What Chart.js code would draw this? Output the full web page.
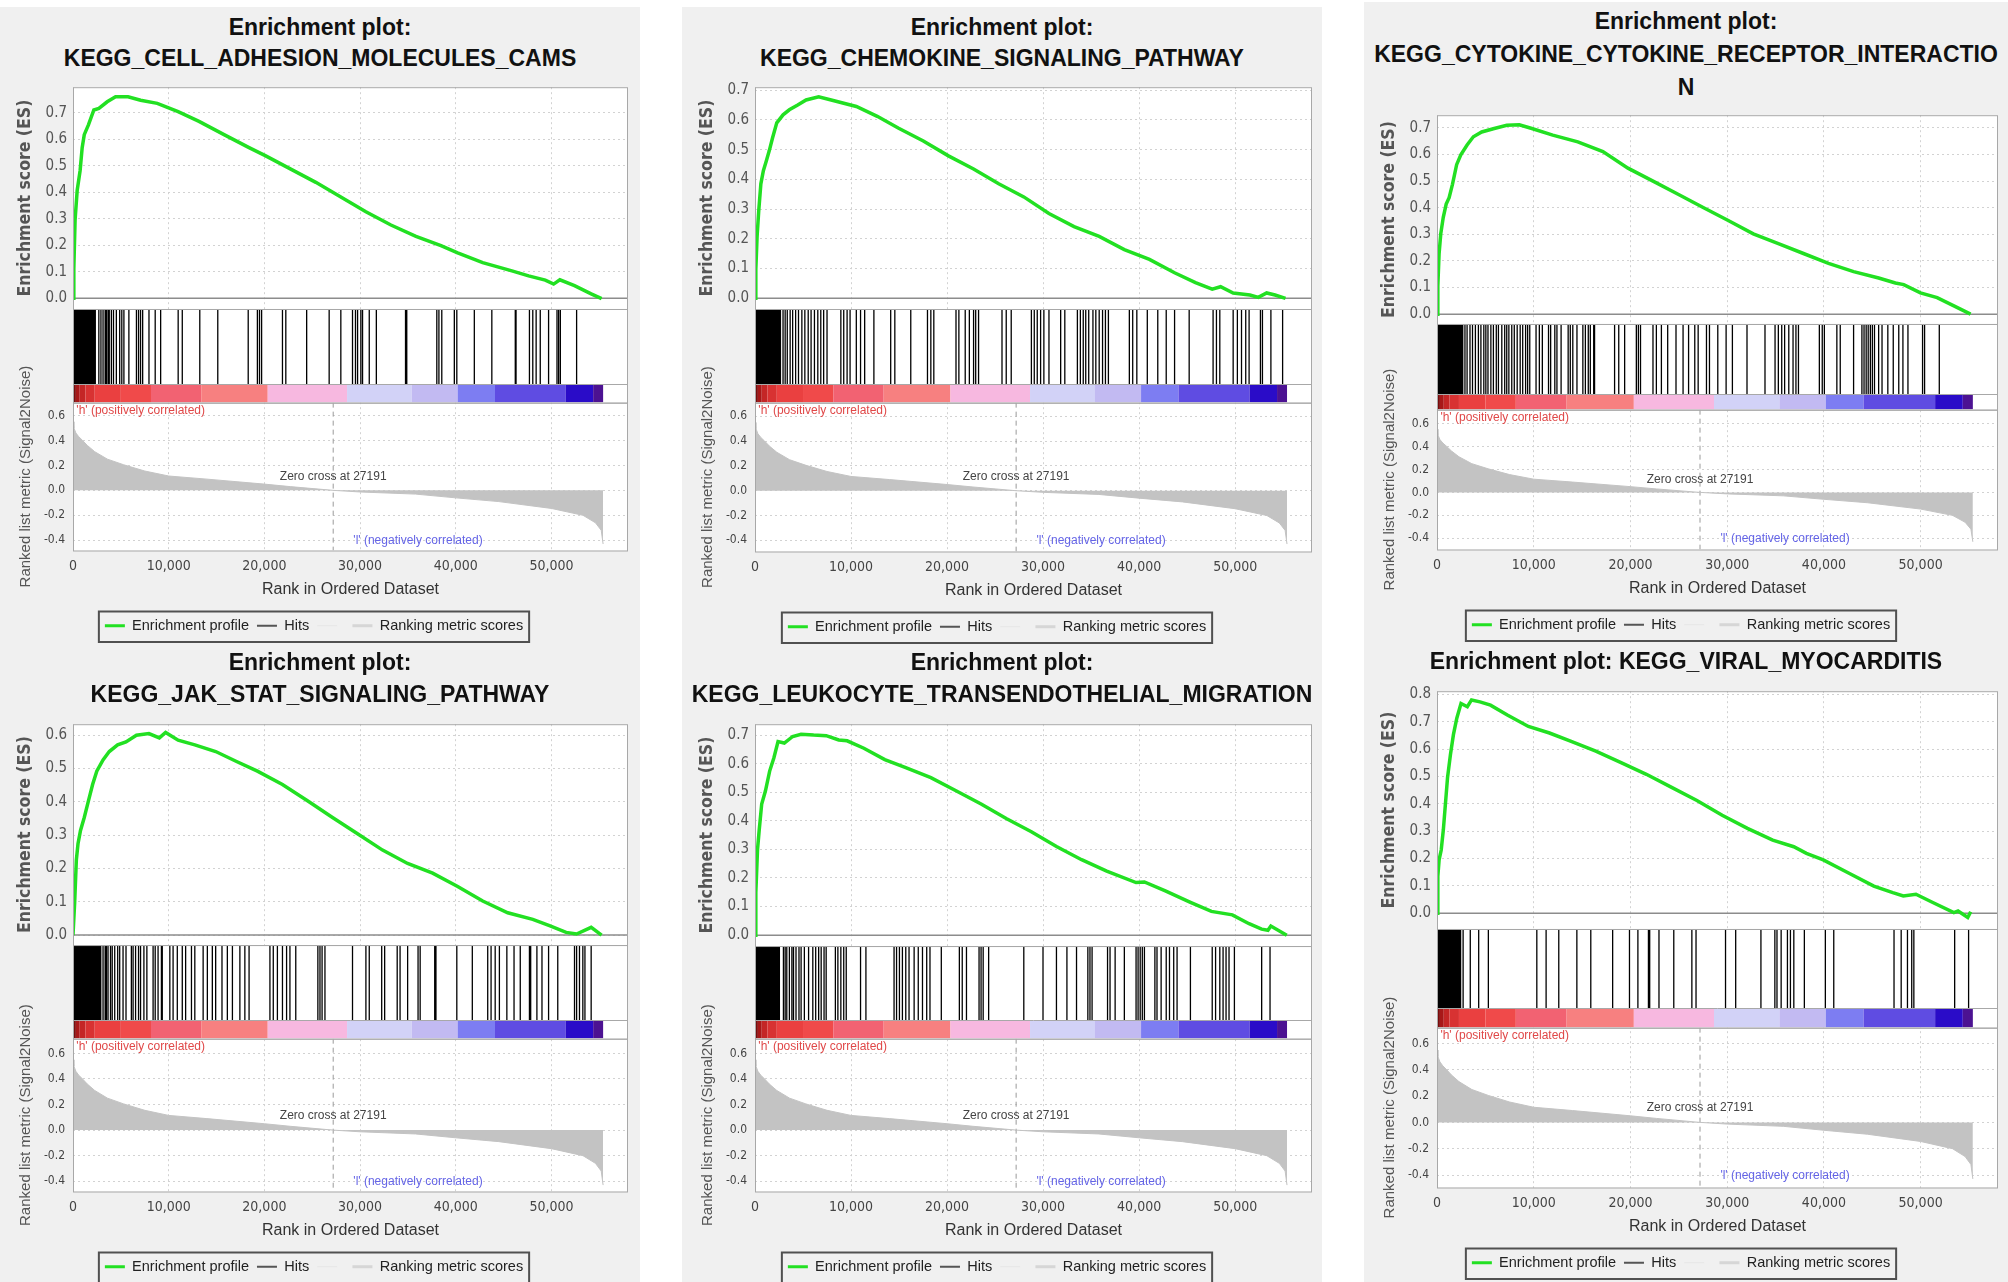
<!DOCTYPE html>
<html>
<head>
<meta charset="utf-8">
<script src="https://cdn.jsdelivr.net/npm/chart.js@4.4.0/dist/chart.umd.min.js"></script>
<style>
  html, body { margin: 0; padding: 0; }
  body { width: 2008px; height: 1282px; background: #fff; position: relative; overflow: hidden;
         font-family: "Liberation Sans", Arial, sans-serif; }
  .col { position: absolute; background: #f0f0f0; }
  .title { position: absolute; text-align: center; font-weight: bold; font-size: 23px; color: #111; white-space: nowrap; }
  canvas { position: absolute; }
</style>
</head>
<body>
<div class="col" style="left:0;top:7px;width:640px;height:1275px"></div>
<div class="col" style="left:682px;top:7px;width:640px;height:1275px"></div>
<div class="col" style="left:1364px;top:2px;width:644px;height:1280px"></div>
<script>
// shared axis ticks
const xTicks = [0, 10000, 20000, 30000, 40000, 50000];
const rankTicks = [-0.4, -0.2, 0.0, 0.2, 0.4, 0.6];
const esTicks06 = [0.0, 0.1, 0.2, 0.3, 0.4, 0.5, 0.6];
const esTicks07 = [0.0, 0.1, 0.2, 0.3, 0.4, 0.5, 0.6, 0.7];
const esTicks08 = [0.0, 0.1, 0.2, 0.3, 0.4, 0.5, 0.6, 0.7, 0.8];
const zeroCross = 27191;

// ranked list metric (same ranked list in every plot)
const metricRanks = [0, 100, 300, 600, 1000, 1500, 2270, 3600, 5300, 7500, 10000, 14000, 20000, 22700,
  27191, 30000, 35800, 40000, 44500, 50000, 53300, 54600, 55200, 55400];
const metricValues = [0.55, 0.50, 0.46, 0.43, 0.40, 0.36, 0.31, 0.25, 0.205, 0.155, 0.115, 0.09, 0.05, 0.03,
  0.0, -0.013, -0.03, -0.06, -0.09, -0.145, -0.20, -0.26, -0.32, -0.43];

// red -> blue colour bar of the ranked list
const barBounds = [0, 300, 700, 1300, 2270, 5000, 8150, 13400, 20350, 28640, 35400, 40200, 44100, 51500, 54360, 55400];
const barColors = ['#7a0c0c', '#a81818', '#c42626', '#d83232', '#ea4040', '#f04a4a', '#f26272', '#f78080',
  '#f7b8e0', '#d2d2f7', '#c2baf2', '#7d7df2', '#5f4ce2', '#2a0cc8', '#4c1292'];

// KEGG_CELL_ADHESION_MOLECULES_CAMS
const camsRanks = [0, 87, 218, 436, 741, 959, 1177, 1613, 2180, 2703, 3575, 4447, 5755, 7063, 8807, 10987, 13167,
  15783, 18399, 20143, 22759, 25375, 27991, 30607, 33223, 35839, 38455, 40199, 42815, 45867, 47611, 49355, 50227,
  50881, 52407, 54151, 55241];
const camsES = [0, 0.109, 0.295, 0.406, 0.481, 0.568, 0.617, 0.654, 0.710, 0.716, 0.741, 0.760, 0.760, 0.747, 0.735,
  0.704, 0.667, 0.617, 0.568, 0.537, 0.487, 0.437, 0.382, 0.326, 0.276, 0.233, 0.198, 0.171, 0.134, 0.103, 0.084,
  0.068, 0.053, 0.069, 0.047, 0.016, -0.002];
const camsHits = [20, 120, 230, 330, 450, 560, 680, 790, 900, 1010, 1130, 1240, 1350, 1460, 1580, 1700, 1820, 1950,
  2080, 2200, 2330, 2700, 2920, 3140, 3360, 3490, 3660, 3790, 4010, 4230, 4530, 4880, 5100, 5320, 5840, 6630, 6850,
  7060, 7280, 7940, 8590, 9160, 10990, 11420, 13250, 15130, 18310, 19270, 19490, 19710, 21890, 22240, 24420, 26770,
  27990, 29210, 29520, 29740, 30080, 30260, 30960, 31700, 34750, 34880, 38020, 38240, 38540, 39850, 40110, 41940,
  43770, 46220, 46300, 47700, 48050, 48400, 48830, 49700, 50580, 50750, 50930, 52630];

// KEGG_CHEMOKINE_SIGNALING_PATHWAY
const chemokineRanks = [0, 87, 218, 392, 610, 872, 1177, 1482, 1831, 2267, 2921, 3575, 4447, 5319, 6627, 7935, 9243,
  10551, 12731, 14911, 17527, 20143, 22759, 25375, 27991, 30607, 33223, 35839, 38455, 41071, 43687, 45867, 47611,
  48483, 49791, 51535, 52407, 53279, 54151, 55241];
const chemokineES = [0, 0.097, 0.208, 0.296, 0.385, 0.429, 0.462, 0.496, 0.540, 0.590, 0.617, 0.634, 0.650, 0.667,
  0.678, 0.667, 0.656, 0.645, 0.612, 0.573, 0.529, 0.479, 0.435, 0.385, 0.341, 0.285, 0.241, 0.208, 0.164, 0.131,
  0.086, 0.053, 0.031, 0.039, 0.018, 0.011, 0.003, 0.018, 0.011, 0.0];
const chemokineHits = [20, 130, 250, 370, 490, 610, 730, 850, 970, 1090, 1210, 1330, 1450, 1570, 1690, 1810, 1930,
  2050, 2170, 2290, 2410, 2530, 2650, 2920, 3140, 3360, 3660, 3920, 4230, 4530, 4880, 5190, 5540, 5840, 6190, 6540,
  6850, 7150, 7500, 8940, 9240, 9590, 9900, 10550, 10990, 11420, 12380, 14130, 14560, 16220, 17960, 18310, 18620,
  20930, 21230, 21890, 22320, 22760, 22980, 23280, 25720, 26160, 26680, 28780, 29080, 29390, 29740, 30080, 30610,
  31830, 32260, 33570, 33880, 34180, 34440, 34750, 35190, 35490, 35840, 36190, 36490, 36800, 38980, 39330, 39760,
  40850, 41940, 42820, 43690, 45210, 47700, 48050, 48400, 49790, 50230, 50660, 51100, 51450, 52630, 52840, 53720,
  54940];

// KEGG_CYTOKINE_CYTOKINE_RECEPTOR_INTERACTION
const cytokineRanks = [0, 86, 216, 389, 648, 950, 1253, 1598, 2030, 2462, 3110, 3758, 4622, 5918, 7214, 8510, 9806,
  11966, 14558, 17150, 19742, 22334, 24926, 27518, 30110, 32702, 35294, 37886, 40478, 43070, 45662, 47390, 48254,
  49982, 51710, 53438, 55166];
const cytokineES = [0, 0.105, 0.228, 0.302, 0.364, 0.414, 0.438, 0.488, 0.562, 0.599, 0.636, 0.667, 0.685, 0.698,
  0.710, 0.712, 0.698, 0.673, 0.648, 0.611, 0.549, 0.500, 0.451, 0.401, 0.352, 0.302, 0.265, 0.228, 0.191, 0.160,
  0.136, 0.117, 0.111, 0.080, 0.062, 0.031, 0.0];
const cytokineHits = [20, 140, 260, 380, 500, 620, 740, 860, 980, 1100, 1220, 1340, 1460, 1580, 1700, 1820, 1940,
  2060, 2180, 2300, 2420, 2540, 2660, 2890, 3110, 3410, 3670, 3970, 4280, 4540, 4840, 5050, 5270, 5570, 5830, 6130,
  6350, 6700, 7000, 7210, 7430, 7730, 7990, 8290, 8600, 8860, 9160, 9370, 9590, 10240, 10580, 10890, 11530, 11750,
  12180, 12400, 12830, 13560, 13780, 14040, 14470, 15080, 15340, 15640, 15850, 16200, 16290, 18360, 18790, 19400,
  20610, 20820, 21040, 22330, 22680, 23200, 23850, 24710, 25440, 26010, 26650, 27000, 27860, 28170, 29030, 29890,
  30540, 32050, 33910, 34950, 35290, 35640, 35940, 36370, 36810, 37110, 37370, 39530, 39830, 40050, 41340, 41690,
  43070, 43930, 44150, 44370, 44580, 44800, 45010, 45230, 45660, 46010, 46610, 47170, 47740, 48170, 48690, 50200,
  50410, 51930];

// KEGG_JAK_STAT_SIGNALING_PATHWAY
const jakRanks = [0, 174, 349, 523, 785, 1177, 1613, 2049, 2485, 3139, 3793, 4665, 5537, 6627, 7935, 9025, 9679,
  10987, 12731, 14911, 17091, 19271, 21887, 24503, 27119, 29735, 32351, 34967, 37583, 40199, 42815, 45431, 48047,
  49791, 51535, 52625, 54151, 55241];
const jakES = [0, 0.097, 0.225, 0.274, 0.314, 0.353, 0.403, 0.452, 0.492, 0.526, 0.551, 0.571, 0.580, 0.600, 0.605,
  0.592, 0.608, 0.585, 0.571, 0.551, 0.521, 0.492, 0.452, 0.403, 0.353, 0.304, 0.255, 0.215, 0.186, 0.146, 0.102,
  0.067, 0.047, 0.028, 0.008, 0.003, 0.023, 0.0];
const jakHits = [20, 140, 260, 380, 500, 620, 740, 860, 980, 1100, 1220, 1340, 1460, 1580, 1700, 1820, 1940, 2060,
  2180, 2300, 2420, 2540, 2660, 2780, 2900, 3140, 3360, 3490, 3660, 3920, 4100, 4360, 4670, 4880, 5230, 5540, 6100,
  6280, 6540, 6850, 7060, 7410, 7720, 8370, 8590, 8890, 9240, 9330, 10120, 10460, 10900, 11420, 11770, 12380, 12730,
  13600, 14040, 14560, 14910, 15570, 16130, 16660, 17440, 17960, 18400, 20580, 20930, 21360, 21890, 22320, 22670,
  23280, 25590, 25810, 26030, 26330, 29210, 30610, 30960, 32260, 32570, 33880, 34180, 34970, 36060, 36280, 37800,
  37930, 40110, 41730, 43340, 43690, 44120, 44560, 45340, 46090, 46740, 47700, 47830, 48480, 49010, 49700, 50660,
  52410, 52630, 52930, 53280, 53500, 54150];

// KEGG_LEUKOCYTE_TRANSENDOTHELIAL_MIGRATION
const leukocyteRanks = [0, 87, 262, 436, 698, 1090, 1526, 1962, 2398, 3052, 3924, 4796, 6104, 7412, 8720, 9592,
  11336, 13516, 15696, 18312, 20928, 23544, 26160, 28776, 31392, 34008, 36624, 39676, 40548, 42728, 45344, 47524,
  49704, 51448, 52756, 53410, 53715, 55372];
const leukocyteES = [0, 0.149, 0.299, 0.367, 0.459, 0.505, 0.574, 0.620, 0.677, 0.672, 0.695, 0.703, 0.700, 0.698,
  0.683, 0.680, 0.654, 0.614, 0.586, 0.551, 0.505, 0.459, 0.408, 0.362, 0.310, 0.264, 0.224, 0.184, 0.186, 0.155,
  0.115, 0.083, 0.071, 0.040, 0.021, 0.017, 0.032, 0.0];
const leukocyteHits = [20, 140, 260, 380, 500, 620, 740, 860, 980, 1100, 1220, 1340, 1460, 1580, 1700, 1820, 1940,
  2060, 2180, 2300, 2420, 2540, 2960, 3140, 3310, 3580, 3840, 4010, 4270, 4580, 4800, 5140, 5580, 6020, 6320, 6630,
  6890, 7190, 7410, 8370, 8630, 8940, 9240, 9500, 10990, 11550, 14480, 14740, 15040, 15350, 15700, 16040, 16570,
  17000, 17440, 17880, 18220, 19400, 21280, 21580, 22020, 23330, 23540, 23760, 24330, 27990, 29990, 31390, 32480,
  33480, 34660, 34880, 35100, 36710, 36970, 37500, 38460, 39680, 39890, 40110, 40330, 40550, 41640, 41860, 42290,
  42820, 43160, 43600, 43950, 45340, 47610, 47960, 48400, 48740, 49050, 49360, 49920, 52760, 53630];

// KEGG_VIRAL_MYOCARDITIS
const viralRanks = [0, 87, 218, 436, 653, 871, 1089, 1394, 1698, 2047, 2482, 3136, 3571, 4442, 5531, 7273, 9450,
  11628, 13805, 16418, 19031, 21644, 24257, 26870, 29483, 32096, 34709, 36887, 38193, 39935, 42548, 45161, 47121,
  48210, 49516, 51258, 53436, 53871, 54873, 55178];
const viralES = [0, 0.135, 0.195, 0.231, 0.304, 0.400, 0.496, 0.581, 0.653, 0.713, 0.767, 0.755, 0.780, 0.773,
  0.761, 0.725, 0.683, 0.659, 0.629, 0.593, 0.551, 0.508, 0.460, 0.412, 0.358, 0.310, 0.267, 0.243, 0.219, 0.195,
  0.147, 0.099, 0.075, 0.063, 0.069, 0.039, 0.002, 0.008, -0.016, 0.005];
const viralHits = [20, 130, 240, 350, 460, 570, 680, 790, 900, 1010, 1120, 1230, 1340, 1450, 1560, 1670, 1780, 1890,
  2000, 2110, 2220, 2330, 2440, 2700, 3440, 4310, 5310, 10320, 11280, 12590, 14460, 15900, 18160, 19900, 20770,
  21860, 21990, 22950, 24480, 26350, 26780, 29830, 30880, 33490, 34930, 35150, 35580, 36230, 36540, 36890, 37980,
  40150, 41020, 47250, 47990, 48640, 49080, 49300, 53520, 54960];

const legendItems = [
  { text: 'Enrichment profile', color: '#22e022', width: 3 },
  { text: 'Hits', color: '#555555', width: 2 },
  { text: '', color: '#e6e6e6', width: 1 },
  { text: 'Ranking metric scores', color: '#d6d6d6', width: 3 },
];

// panel layout (page pixels) + which series go where
const panels = [
  { title: ['Enrichment plot:', 'KEGG_CELL_ADHESION_MOLECULES_CAMS'], esX: camsRanks, esY: camsES, hits: camsHits,
    esTicks: esTicks07,
    box: { left: 0, width: 640, right: 12, titleTop: 12, titleLine: 31, esTop: 82, esBot: 307, hitsBot: 402,
      rankBot: 552, esMin: -0.041, esMax: 0.796, rankMin: -0.482, rankMax: 0.703, barFrac: 0.2 } },
  { title: ['Enrichment plot:', 'KEGG_CHEMOKINE_SIGNALING_PATHWAY'], esX: chemokineRanks, esY: chemokineES,
    hits: chemokineHits, esTicks: esTicks07,
    box: { left: 682, width: 640, right: 10, titleTop: 12, titleLine: 31, esTop: 82, esBot: 307, hitsBot: 402,
      rankBot: 553, esMin: -0.036, esMax: 0.71, rankMin: -0.49, rankMax: 0.71, barFrac: 0.2 } },
  { title: ['Enrichment plot:', 'KEGG_CYTOKINE_CYTOKINE_RECEPTOR_INTERACTIO', 'N'], esX: cytokineRanks,
    esY: cytokineES, hits: cytokineHits, esTicks: esTicks07,
    box: { left: 1364, width: 644, right: 10, titleTop: 5, titleLine: 33, esTop: 110, esBot: 322, hitsBot: 409,
      rankBot: 551, esMin: -0.037, esMax: 0.748, rankMin: -0.497, rankMax: 0.72, barFrac: 0.184 } },
  { title: ['Enrichment plot:', 'KEGG_JAK_STAT_SIGNALING_PATHWAY'], esX: jakRanks, esY: jakES, hits: jakHits,
    esTicks: esTicks06,
    box: { left: 0, width: 640, right: 12, titleTop: 646, titleLine: 32, esTop: 719, esBot: 943, hitsBot: 1038,
      rankBot: 1193, esMin: -0.03, esMax: 0.633, rankMin: -0.48, rankMax: 0.715, barFrac: 0.2 } },
  { title: ['Enrichment plot:', 'KEGG_LEUKOCYTE_TRANSENDOTHELIAL_MIGRATION'], esX: leukocyteRanks, esY: leukocyteES,
    hits: leukocyteHits, esTicks: esTicks07,
    box: { left: 682, width: 640, right: 10, titleTop: 646, titleLine: 32, esTop: 719, esBot: 944, hitsBot: 1038,
      rankBot: 1193, esMin: -0.038, esMax: 0.738, rankMin: -0.48, rankMax: 0.715, barFrac: 0.2 } },
  { title: ['Enrichment plot: KEGG_VIRAL_MYOCARDITIS'], esX: viralRanks, esY: viralES, hits: viralHits,
    esTicks: esTicks08,
    box: { left: 1364, width: 644, right: 10, titleTop: 645, titleLine: 32, esTop: 686, esBot: 927, hitsBot: 1027,
      rankBot: 1189, esMin: -0.058, esMax: 0.812, rankMin: -0.495, rankMax: 0.72, barFrac: 0.2 } },
];

const tickFont = 'DejaVu Sans Condensed';

// frames, zero line, white hits strip, annotations, legend box
const gseaDecor = {
  id: 'gseaDecor',
  beforeDraw(chart) {
    const { ctx, chartArea: a } = chart;
    ctx.save();
    ctx.fillStyle = '#fff';
    ctx.fillRect(a.left, a.top, a.width, a.height);
    ctx.restore();
  },
  beforeDatasetsDraw(chart) {
    const { ctx, chartArea: a, scales } = chart;
    const h = scales.yHits, es = scales.yES;
    ctx.save();
    ctx.fillStyle = '#fff';
    ctx.fillRect(a.left, h.top, a.width, h.bottom - h.top);
    const y0 = es.getPixelForValue(0);
    ctx.strokeStyle = '#8c8c8c';
    ctx.lineWidth = 1.5;
    ctx.beginPath(); ctx.moveTo(a.left, y0); ctx.lineTo(a.right, y0); ctx.stroke();
    ctx.restore();
  },
  afterDatasetsDraw(chart) {
    const { ctx, chartArea: a, scales } = chart;
    const x = scales.x, h = scales.yHits, es = scales.yES, rk = scales.yRank;
    const frac = chart.options.plugins.gseaDecor.barFrac;
    ctx.save();
    ctx.strokeStyle = '#a8a8a8';
    ctx.lineWidth = 1;
    [es, h, rk].forEach(s => ctx.strokeRect(a.left + 0.5, s.top + 0.5, a.width - 1, s.bottom - s.top));
    const yb = Math.round(h.getPixelForValue(frac)) + 0.5;
    ctx.beginPath(); ctx.moveTo(a.left, yb); ctx.lineTo(a.right, yb); ctx.stroke();

    ctx.font = '12px "Liberation Sans", Arial';
    ctx.textBaseline = 'top';
    ctx.textAlign = 'left';
    ctx.fillStyle = '#e04848';
    ctx.fillText("'h' (positively correlated)", x.getPixelForValue(350), rk.top + 2);
    ctx.textBaseline = 'middle';
    ctx.fillStyle = '#6464e6';
    ctx.fillText("'l' (negatively correlated)", x.getPixelForValue(29300), rk.getPixelForValue(-0.405));
    ctx.textAlign = 'center';
    ctx.fillStyle = '#444';
    ctx.fillText('Zero cross at ' + zeroCross, x.getPixelForValue(zeroCross), rk.getPixelForValue(0.11));
    ctx.restore();
  },
  afterDraw(chart) {
    const lg = chart.legend;
    if (!lg || !lg.legendHitBoxes.length) return;
    const boxes = lg.legendHitBoxes;
    const l = Math.min(...boxes.map(b => b.left)) - 6;
    const r = Math.max(...boxes.map(b => b.left + b.width)) + 6;
    const ctx = chart.ctx;
    ctx.save();
    ctx.strokeStyle = '#505050';
    ctx.lineWidth = 2;
    ctx.strokeRect(l, lg.top + 1, r - l, lg.bottom - lg.top - 2);
    ctx.restore();
  }
};

function fixedWidth(w) { return s => { s.width = w; }; }

function makePanel(p) {
  const b = p.box;
  const top = b.esTop - 10;
  const height = b.rankBot + 60 + 31 + 4 - top;

  const t = document.createElement('div');
  t.className = 'title';
  t.style.left = b.left + 'px';
  t.style.width = b.width + 'px';
  t.style.top = b.titleTop + 'px';
  t.style.lineHeight = b.titleLine + 'px';
  p.title.forEach(line => {
    const d = document.createElement('div');
    d.textContent = line;
    t.appendChild(d);
  });
  document.body.appendChild(t);

  const cv = document.createElement('canvas');
  cv.width = b.width;
  cv.height = height;
  cv.style.left = b.left + 'px';
  cv.style.top = top + 'px';
  document.body.appendChild(cv);

  const barPx = (b.hitsBot - b.esBot) * b.barFrac;
  const gridDash = { display: false, dash: [2, 3] };

  new Chart(cv, {
    type: 'line',
    data: {
      datasets: [
        { label: 'Enrichment profile', yAxisID: 'yES', borderColor: '#22e022', borderWidth: 3.5,
          data: p.esX.map((x, i) => ({ x, y: p.esY[i] })) },
        { label: 'Hits', yAxisID: 'yHits', borderColor: '#000', borderWidth: 1.3, spanGaps: false,
          data: p.hits.flatMap(r => [{ x: r, y: b.barFrac }, { x: r, y: 1 }, { x: r, y: null }]) },
        { label: '', yAxisID: 'yHits', borderWidth: barPx - 1, borderCapStyle: 'butt', borderColor: barColors[0],
          segment: { borderColor: c => barColors[c.p0DataIndex] },
          data: barBounds.map(x => ({ x, y: b.barFrac / 2 })) },
        { label: 'Ranking metric scores', yAxisID: 'yRank', fill: 'origin', backgroundColor: '#c3c3c3',
          borderColor: '#c3c3c3', borderWidth: 1,
          data: metricRanks.map((x, i) => ({ x, y: metricValues[i] })) },
        { label: '', yAxisID: 'yRank', borderColor: '#9a9a9a', borderWidth: 1, borderDash: [5, 4],
          data: [{ x: zeroCross, y: b.rankMax }, { x: zeroCross, y: b.rankMin }] },
      ]
    },
    options: {
      responsive: false,
      animation: false,
      events: [],
      layout: { padding: { top: 10, right: b.right, bottom: 4, left: 0 } },
      elements: { point: { radius: 0 }, line: { tension: 0 } },
      plugins: {
        tooltip: { enabled: false },
        gseaDecor: { barFrac: b.barFrac },
        legend: {
          position: 'bottom',
          labels: {
            usePointStyle: true,
            pointStyleWidth: 20,
            padding: 8,
            color: '#222',
            font: { family: '"Liberation Sans", Arial', size: 14.5 },
            generateLabels: () => legendItems.map((it, i) => ({
              text: it.text, strokeStyle: it.color, fillStyle: it.color, lineWidth: it.width,
              pointStyle: 'line', hidden: false, datasetIndex: i, fontColor: '#222'
            }))
          }
        }
      },
      scales: {
        x: {
          type: 'linear', min: 0, max: 58000,
          afterBuildTicks: s => { s.ticks = xTicks.map(v => ({ value: v })); },
          afterFit: s => { s.height = 60; },
          ticks: { callback: v => Number(v).toLocaleString('en-US'), autoSkip: false, maxRotation: 0,
            padding: 7, color: '#444', font: { family: tickFont, size: 14 } },
          grid: { color: '#d2d2d2', drawTicks: false },
          border: gridDash,
          title: { display: true, text: 'Rank in Ordered Dataset', color: '#333',
            font: { family: '"Liberation Sans", Arial', size: 16 }, padding: { top: 0, bottom: 11 } }
        },
        yES: {
          type: 'linear', position: 'left', stack: 'gsea', stackWeight: b.esBot - b.esTop, weight: 3,
          min: b.esMin, max: b.esMax,
          afterBuildTicks: s => { s.ticks = p.esTicks.map(v => ({ value: v })); },
          afterFit: fixedWidth(73),
          ticks: { callback: v => Number(v).toFixed(1), autoSkip: false, padding: 6, color: '#555',
            font: { family: tickFont, size: 15 } },
          grid: { color: '#d2d2d2', drawTicks: false },
          border: gridDash,
          title: { display: true, text: 'Enrichment score (ES)', color: '#555',
            font: { family: tickFont, size: 17.5, weight: 'bold' }, padding: { top: 15, bottom: 0 } }
        },
        yHits: {
          type: 'linear', position: 'left', stack: 'gsea', stackWeight: b.hitsBot - b.esBot, weight: 2,
          min: 0, max: 1,
          afterFit: fixedWidth(73),
          ticks: { display: false },
          grid: { display: false, drawTicks: false },
          border: { display: false }
        },
        yRank: {
          type: 'linear', position: 'left', stack: 'gsea', stackWeight: b.rankBot - b.hitsBot, weight: 1,
          min: b.rankMin, max: b.rankMax,
          afterBuildTicks: s => { s.ticks = rankTicks.map(v => ({ value: v })); },
          afterFit: fixedWidth(73),
          ticks: { callback: v => Number(v).toFixed(1), autoSkip: false, padding: 8, color: '#444',
            font: { family: tickFont, size: 12 } },
          grid: { color: '#d2d2d2', drawTicks: false },
          border: gridDash,
          title: { display: true, text: 'Ranked list metric (Signal2Noise)', color: '#555',
            font: { family: '"Liberation Sans", Arial', size: 15 }, padding: { top: 17, bottom: 0 } }
        }
      }
    },
    plugins: [gseaDecor]
  });
}

panels.forEach(makePanel);
</script>
</body>
</html>
